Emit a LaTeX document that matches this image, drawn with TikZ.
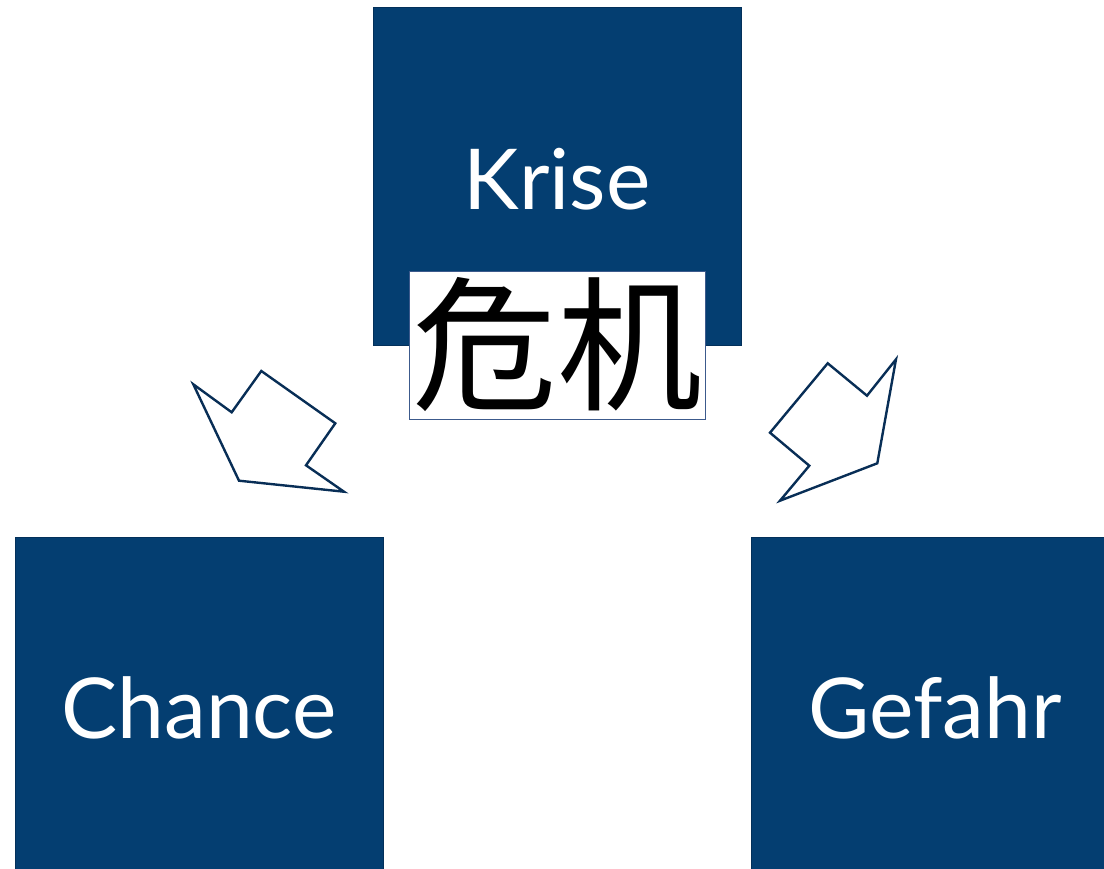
\documentclass[tikz,border=0pt]{standalone}
\usepackage{fontspec}
\setmainfont{Lato}
\newfontfamily\cjk{Noto Sans CJK SC}
\definecolor{boxblue}{RGB}{4,62,113}
\definecolor{boxedge}{RGB}{3,48,90}
\definecolor{arrowedge}{RGB}{8,46,86}
\definecolor{cjkedge}{RGB}{60,90,140}
\tikzset{
  sq/.style={fill=boxblue,draw=boxedge,line width=1pt},
  lbl/.style={text=white,font=\fontsize{84}{84}\selectfont,inner sep=0pt,anchor=base},
  bigarrow/.style={draw=arrowedge,line width=2.4pt,line join=miter,fill=white},
}
\begin{document}
\begin{tikzpicture}[x=1pt,y=-1pt]
\useasboundingbox (0,0) rectangle (1104,869);
\begin{scope}
\clip (0,0) rectangle (1104,869);
\draw[sq] (373,8) rectangle (741,345);
\draw[sq] (15,537) rectangle (383,880);
\draw[sq] (751,537) rectangle (1120,880);
\end{scope}
\node[lbl] (krise) at (557,210) {Krise};
\node[lbl] (chance) at (199,738) {Chance};
\node[lbl] (gefahr) at (935,738) {Gefahr};
\node[draw=cjkedge,fill=white,line width=0.8pt,minimum width=296pt,minimum height=148pt,inner sep=0pt,
  font=\cjk\fontsize{145}{145}\selectfont] (cjk) at (557,345) {危机};
\draw[bigarrow] (193.3,384.3) -- (231.7,412.3) -- (261.3,371) -- (335.3,423.3) -- (306,465.3) -- (344,491.7) -- (239,480.7) -- cycle;
\draw[bigarrow] (827.7,363.3) -- (867,395.7) -- (896,359.3) -- (877.3,463.3) -- (780,500.7) -- (809.3,465.7) -- (770,432.7) -- cycle;
\end{tikzpicture}
\end{document}
